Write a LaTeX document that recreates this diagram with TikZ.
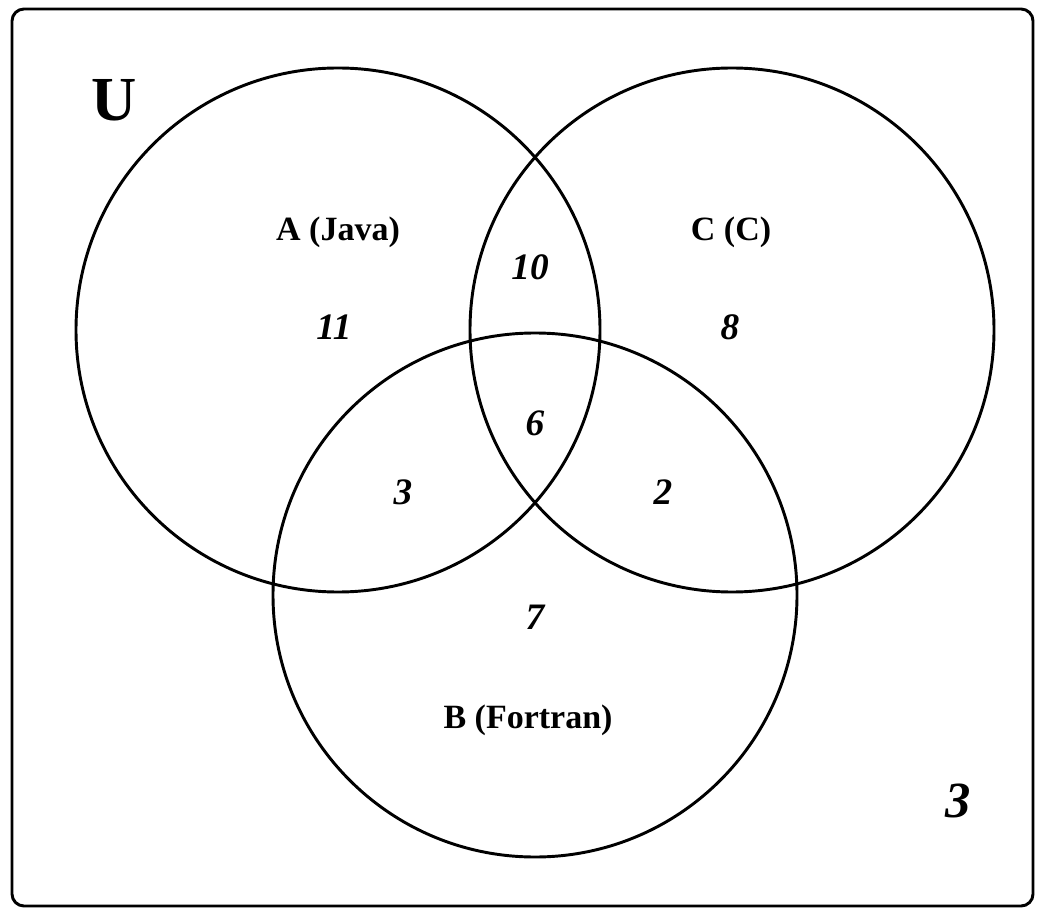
\documentclass[tikz,border=0pt]{standalone}
\usepackage{fontspec}
\setmainfont{Liberation Serif}

\begin{document}
\begin{tikzpicture}[
    x=0.75pt, y=-0.75pt,
    set/.style={circle, draw=black, line width=2.2pt, minimum size=393pt, inner sep=0pt},
    setlabel/.style={font=\bfseries\fontsize{25.5}{28}\selectfont},
    count/.style={font=\bfseries\itshape\fontsize{28}{32}\selectfont}
]
    \useasboundingbox (0,0) rectangle (1044,919);
    \draw[line width=2.2pt, rounded corners=9pt] (12,9) rectangle (1033,906);

    \node[set] (javaset) at (338,330) {};
    \node[set] (cset) at (732,330) {};
    \node[set] (fortranset) at (535,595) {};

    \node[font=\bfseries\fontsize{47}{52}\selectfont] (univ) at (114,100) {U};
    \node[setlabel] (javalabel) at (338,232) {A (Java)};
    \node[setlabel] (clabel) at (731,232) {C (C)};
    \node[setlabel] (fortranlabel) at (528,720) {B (Fortran)};

    \node[count] (onlya) at (334,327) {11};
    \node[count] (onlyc) at (730,327) {8};
    \node[count] (onlyb) at (535,617) {7};
    \node[count] (ac) at (530,267) {10};
    \node[count] (abc) at (535,423) {6};
    \node[count] (ab) at (403,492) {3};
    \node[count] (bc) at (663,492) {2};
    \node[font=\bfseries\itshape\fontsize{38}{42}\selectfont] (outside) at (958,801) {3};
\end{tikzpicture}
\end{document}
